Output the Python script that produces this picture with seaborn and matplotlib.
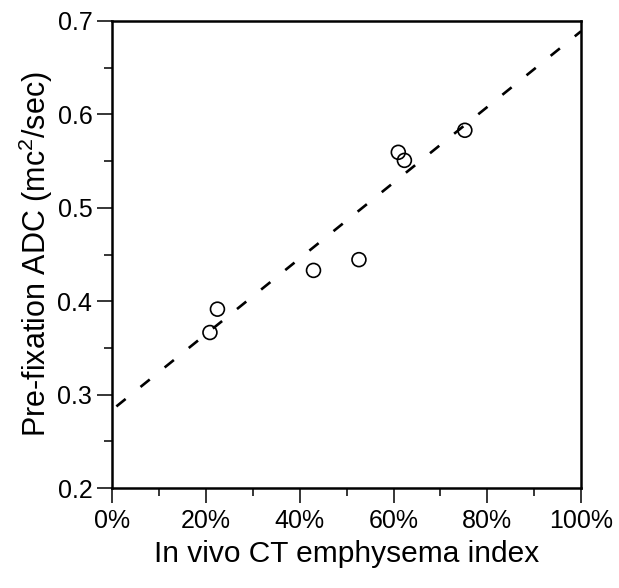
import matplotlib
matplotlib.use("Agg")
import matplotlib.pyplot as plt
import seaborn as sns
import pandas as pd
from matplotlib.ticker import MultipleLocator, PercentFormatter, FormatStrFormatter

# Data
ct_index = [20.8, 22.4, 42.9, 52.6, 61.0, 62.3, 75.2]          # %
adc = [0.3665, 0.3915, 0.433, 0.4445, 0.5594, 0.5508, 0.583]    # mc^2/sec
fit_x = [0, 100]
fit_y = [0.284, 0.689]

sns.set_theme(style="ticks")
plt.rcParams["font.family"] = ["Liberation Sans", "DejaVu Sans"]
plt.rcParams["mathtext.fontset"] = "custom"
plt.rcParams["mathtext.rm"] = "Liberation Sans"
plt.rcParams["mathtext.it"] = "Liberation Sans"

fig = plt.figure(figsize=(6.19, 5.88), dpi=100)
ax = fig.add_axes([0.1817, 0.170, 0.757, 0.7943])

pts = pd.DataFrame({"x": ct_index, "y": adc})
line = pd.DataFrame({"x": fit_x, "y": fit_y})

sns.lineplot(data=line, x="x", y="y", ax=ax, color="black", lw=1.9,
             linestyle=(9.85, (4.5, 7.25)))
sns.scatterplot(data=pts, x="x", y="y", ax=ax, s=100, marker="o",
                facecolors="none", edgecolor="black", linewidth=1.2, zorder=3)

ax.set_xlim(0, 100)
ax.set_ylim(0.2, 0.7)
ax.xaxis.set_major_locator(MultipleLocator(20))
ax.xaxis.set_minor_locator(MultipleLocator(10))
ax.xaxis.set_major_formatter(PercentFormatter(decimals=0))
ax.yaxis.set_major_locator(MultipleLocator(0.1))
ax.yaxis.set_minor_locator(MultipleLocator(0.05))
ax.yaxis.set_major_formatter(FormatStrFormatter("%.1f"))

for s in ax.spines.values():
    s.set_linewidth(1.8)
    s.set_color("black")
ax.tick_params(which="major", direction="out", length=11, width=1.1,
               color="black", labelcolor="black")
ax.tick_params(which="minor", direction="out", length=5.5, width=1.1, color="black")
ax.tick_params(axis="y", which="major", pad=3.5)
ax.tick_params(axis="x", which="major", pad=4)
for lbl in ax.get_xticklabels() + ax.get_yticklabels():
    lbl.set_fontsize(18)

ax.set_xlabel("In vivo CT emphysema index", fontsize=21.5, labelpad=5, color="black")
ax.set_ylabel("Pre-fixation ADC (mc$^{2}$/sec)", fontsize=22, labelpad=1.5, color="black")

fig.savefig("out.png", dpi=100)
